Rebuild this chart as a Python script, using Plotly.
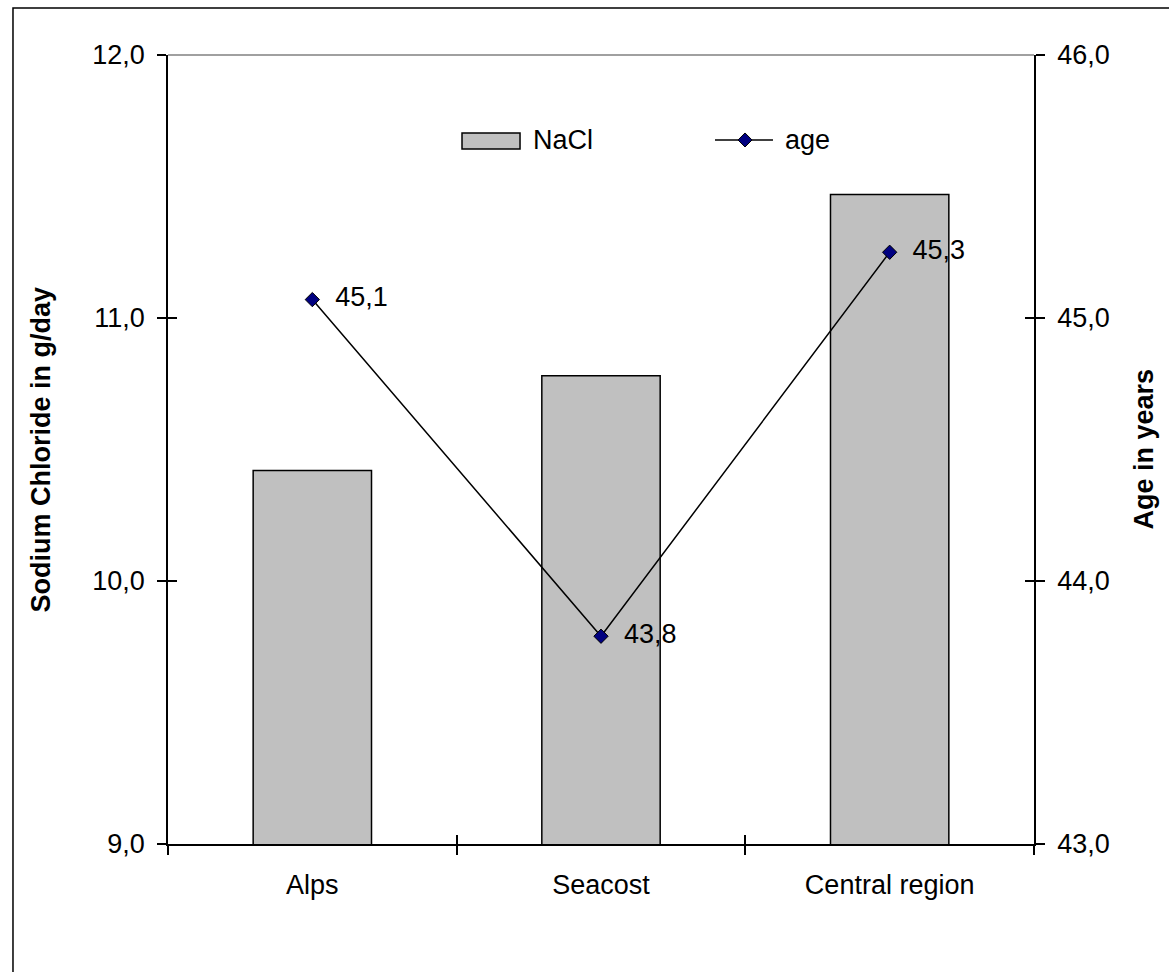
import plotly.graph_objects as go

categories = ["Alps", "Seacost", "Central region"]
nacl = [10.42, 10.78, 11.47]
age = [45.07, 43.79, 45.25]
age_labels = ["45,1", "43,8", "45,3"]
nacl_name = "NaCl"
age_name = "age"
left_title = "Sodium Chloride in g/day"
right_title = "Age in years"

FONT = "Liberation Sans, Arial, sans-serif"
FS = 27

fig = go.Figure()
fig.add_trace(go.Bar(
    x=categories, y=nacl, name=nacl_name,
    marker=dict(color="#c0c0c0", line=dict(color="black", width=1.5)),
    width=0.41, showlegend=False, xaxis="x", yaxis="y",
))
fig.add_trace(go.Scatter(
    x=categories, y=age, name=age_name, mode="lines+markers+text",
    line=dict(color="black", width=1.5),
    marker=dict(symbol="diamond", size=11, color="#000080", line=dict(color="black", width=1)),
    text=["  " + t for t in age_labels], textposition="middle right",
    textfont=dict(family=FONT, size=FS, color="black"),
    showlegend=False, xaxis="x", yaxis="y2", cliponaxis=False,
))
# empty helper traces so that the overlay axes (inner half of crossing ticks) are drawn
fig.add_trace(go.Scatter(x=[], y=[], xaxis="x2", yaxis="y3", showlegend=False, hoverinfo="skip"))
fig.add_trace(go.Scatter(x=[], y=[], xaxis="x", yaxis="y4", showlegend=False, hoverinfo="skip"))

axis_common = dict(showgrid=False, zeroline=False, linecolor="black", linewidth=1.5,
                   tickcolor="black", tickwidth=1.5, automargin=False,
                   tickfont=dict(family=FONT, size=FS, color="black"))

fig.update_layout(
    width=1169, height=972,
    margin=dict(l=168, r=135, t=55, b=128),
    paper_bgcolor="white", plot_bgcolor="white",
    separators=",.",
    font=dict(family=FONT, size=FS, color="black"),
    bargap=0.59,
    xaxis=dict(**axis_common, type="category", categoryorder="array", categoryarray=categories,
               range=[-0.5, 2.5], tickson="boundaries", ticks="outside", ticklen=9,
               showline=True, ticklabelstandoff=16),
    xaxis2=dict(showgrid=False, zeroline=False, type="category", categoryorder="array",
                categoryarray=categories, range=[-0.5, 2.5], tickson="boundaries",
                tickmode="array", tickvals=categories, automargin=False,
                ticks="inside", ticklen=9, tickcolor="black", tickwidth=1.5,
                showticklabels=False, showline=False, overlaying="x", anchor="y3"),
    yaxis=dict(**axis_common, range=[9, 12], dtick=1, tickformat=".1f", ticks="outside",
               ticklen=9, showline=True, ticklabelstandoff=7),
    yaxis2=dict(**axis_common, range=[43, 46], dtick=1, tickformat=".1f", ticks="outside",
                ticklen=9, showline=True, side="right", overlaying="y", anchor="x",
                ticklabelstandoff=7),
    yaxis3=dict(showgrid=False, zeroline=False, range=[9, 12], dtick=1, ticks="inside",
                ticklen=9, tickcolor="black", tickwidth=1.5, showticklabels=False, automargin=False,
                showline=False, overlaying="y", anchor="x2", side="left"),
    yaxis4=dict(showgrid=False, zeroline=False, range=[43, 46], dtick=1, ticks="inside",
                ticklen=9, tickcolor="black", tickwidth=1.5, showticklabels=False, automargin=False,
                showline=False, overlaying="y", anchor="x", side="right"),
)

shapes = []
# outer chart frame
shapes.append(dict(type="rect", xref="paper", yref="paper", x0=-0.179, x1=1.3, y0=-0.4, y1=1.0596,
                   line=dict(color="black", width=1.5), fillcolor="rgba(0,0,0,0)", layer="below"))
# grey top border of plot area
shapes.append(dict(type="line", xref="paper", yref="paper", x0=0, x1=1, y0=1, y1=1,
                   line=dict(color="#808080", width=1.5)))
# legend: NaCl box
shapes.append(dict(type="rect", xref="paper", yref="paper", x0=0.3395, x1=0.4065, y0=0.8809, y1=0.9011,
                   line=dict(color="black", width=1.5), fillcolor="#c0c0c0"))
# legend: age line + diamond
ly = 0.8923
shapes.append(dict(type="line", xref="paper", yref="paper", x0=0.6316, x1=0.6986, y0=ly, y1=ly,
                   line=dict(color="black", width=1.5)))
cx, dx, dy = 0.6663, 0.0081, 0.0089
shapes.append(dict(type="path", xref="paper", yref="paper",
                   path=f"M {cx-dx},{ly} L {cx},{ly+dy} L {cx+dx},{ly} L {cx},{ly-dy} Z",
                   line=dict(color="black", width=1), fillcolor="#000080"))
fig.update_layout(shapes=shapes)

fig.add_annotation(xref="paper", yref="paper", x=0.4192, y=ly, text=nacl_name, showarrow=False,
                   xanchor="left", yanchor="middle", font=dict(family=FONT, size=FS, color="black"))
fig.add_annotation(xref="paper", yref="paper", x=0.7102, y=ly, text=age_name, showarrow=False,
                   xanchor="left", yanchor="middle", font=dict(family=FONT, size=FS, color="black"))
# axis titles
fig.add_annotation(xref="paper", yref="paper", x=-0.1478, y=0.5, text=f"<b>{left_title}</b>",
                   textangle=-90, showarrow=False, xanchor="center", yanchor="middle",
                   font=dict(family=FONT, size=FS, color="black"))
fig.add_annotation(xref="paper", yref="paper", x=1.1259, y=0.5, text=f"<b>{right_title}</b>",
                   textangle=-90, showarrow=False, xanchor="center", yanchor="middle",
                   font=dict(family=FONT, size=FS, color="black"))

fig.write_html("out.html")
